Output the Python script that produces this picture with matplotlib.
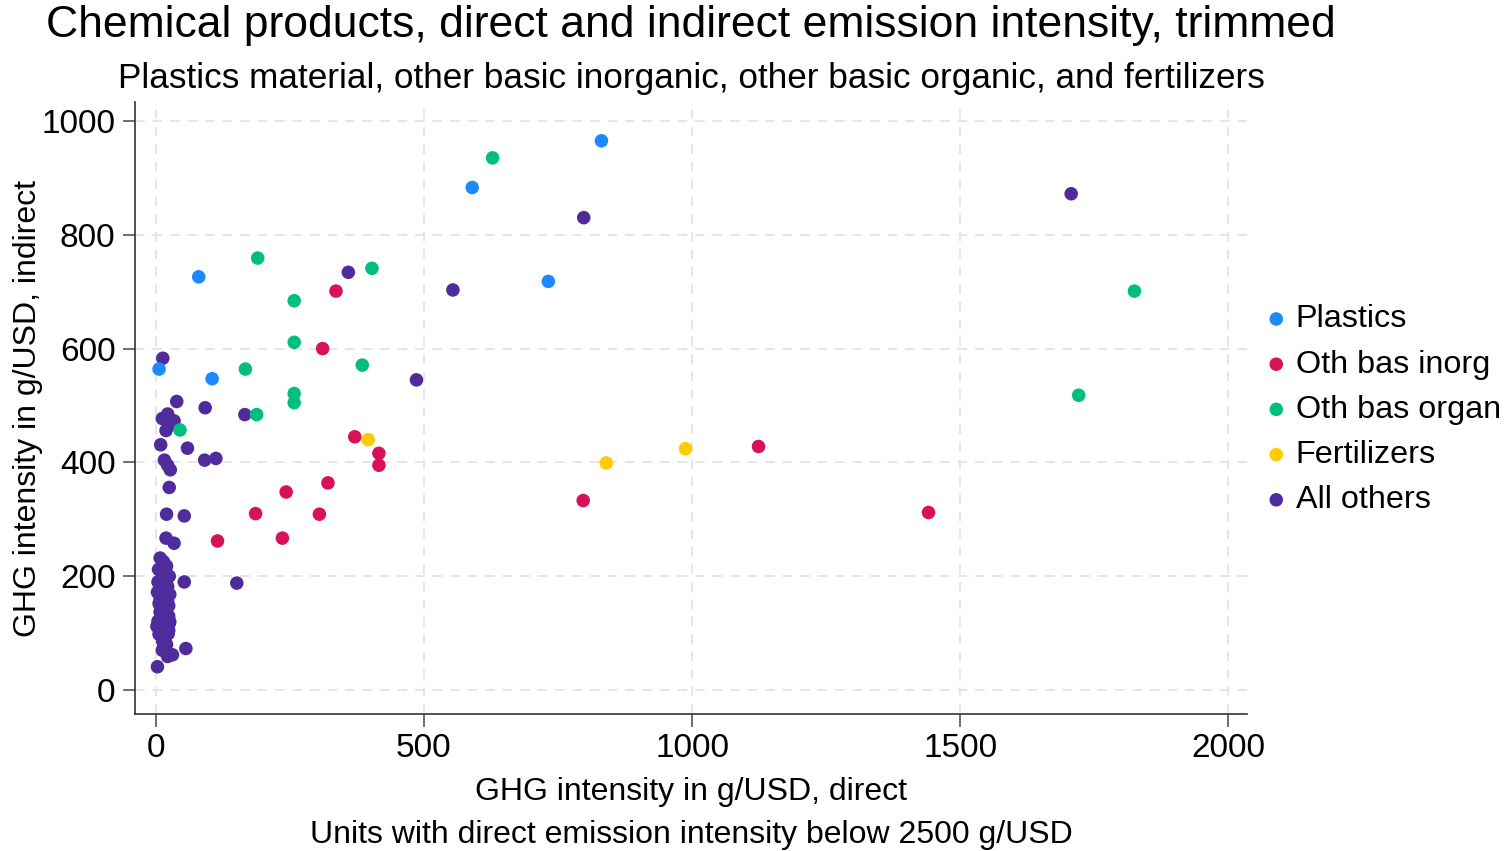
import matplotlib
matplotlib.use("Agg")
import matplotlib.pyplot as plt

plt.rcParams['font.family'] = ['Liberation Sans', 'DejaVu Sans']

# GHG intensity in g/USD: direct (x) and indirect (y)
plastics_x = [831, 590, 732, 80, 105, 6]
plastics_y = [965, 883, 718, 726, 547, 564]

inorg_x = [336, 311, 371, 416, 416, 321, 243, 186, 305, 115, 236, 797, 1124, 1441]
inorg_y = [701, 600, 445, 416, 395, 364, 348, 310, 309, 262, 267, 333, 428, 312]

organ_x = [628, 190, 403, 258, 258, 385, 167, 258, 258, 188, 45, 1825, 1721]
organ_y = [935, 759, 741, 684, 611, 571, 564, 521, 505, 484, 457, 701, 518]

fert_x = [396, 840, 988]
fert_y = [440, 399, 424]

others_x = [798, 1707, 359, 554, 486, 166, 92, 39, 13,
            22, 12, 34, 19, 28, 9, 59, 16, 22, 27, 91, 112, 25, 20, 53,
            19, 34, 53, 151, 56, 3, 22, 31,
            8, 14, 20, 5, 12, 25, 18, 9, 22, 15, 3, 26, 11, 19, 6, 24, 14,
            8, 21, 16, 4, 25, 12, 18, 7, 23, 10, 17, 2, 24, 13, 20, 6, 26,
            15, 9, 22, 4, 18, 12, 24, 8]
others_y = [830, 872, 734, 703, 545, 484, 496, 507, 583,
            485, 477, 473, 456, 466, 431, 425, 404, 395, 387, 404, 407, 356, 309, 306,
            267, 258, 190, 188, 73, 41, 59, 62,
            232, 226, 218, 212, 205, 200, 195, 188, 182, 176, 172, 168, 163, 158, 152, 148, 142,
            137, 131, 126, 121, 117, 112, 108, 103, 99, 95, 90, 112, 130, 85, 80, 98, 120,
            76, 140, 155, 190, 210, 70, 105, 160]

groups = ['Plastics', 'Oth bas inorg', 'Oth bas organ', 'Fertilizers', 'All others']
colors = ['#1e88ff', '#d7115a', '#00bf7d', '#ffcc00', '#4f2c9c']

fig = plt.figure(figsize=(15.11, 8.51), dpi=100)
ax = fig.add_axes([0.0893, 0.161, 0.7360, 0.719])

data = [(plastics_x, plastics_y), (inorg_x, inorg_y), (organ_x, organ_y),
        (fert_x, fert_y), (others_x, others_y)]
for (xs, ys), name, c in zip(data, groups, colors):
    z = 2 if name == 'All others' else 3
    ax.scatter(xs, ys, s=95, color=c, edgecolors='none', label=name, zorder=z)

ax.set_xlim(-39, 2035)
ax.set_ylim(-42, 1033)
ax.set_xticks([0, 500, 1000, 1500, 2000])
ax.set_yticks([0, 200, 400, 600, 800, 1000])
ax.grid(True, color='#e6e6e6', linestyle=(0, (5, 4)), linewidth=1.4, zorder=0)
ax.set_axisbelow(True)
for s in ['top', 'right']:
    ax.spines[s].set_visible(False)
for s in ['left', 'bottom']:
    ax.spines[s].set_color('#333333')
    ax.spines[s].set_linewidth(1.2)
ax.tick_params(axis='both', labelsize=24, length=9, width=1.2, color='#555555', pad=5)

ax.text(0.5, 1.126, 'Chemical products, direct and indirect emission intensity, trimmed',
        transform=ax.transAxes, ha='center', va='center', fontsize=32)
ax.text(0.5, 1.039, 'Plastics material, other basic inorganic, other basic organic, and fertilizers',
        transform=ax.transAxes, ha='center', va='center', fontsize=25.3)
ax.text(0.5, -0.127, 'GHG intensity in g/USD, direct',
        transform=ax.transAxes, ha='center', va='center', fontsize=23)
ax.text(0.5, -0.197, 'Units with direct emission intensity below 2500 g/USD',
        transform=ax.transAxes, ha='center', va='center', fontsize=23)
ax.text(-0.096, 0.5, 'GHG intensity in g/USD, indirect', rotation=90,
        transform=ax.transAxes, ha='center', va='center', fontsize=23)

ax.legend(loc='center left', bbox_to_anchor=(1.003, 0.497), frameon=False, fontsize=23.3,
          handlelength=0.6, handletextpad=0.3, labelspacing=0.47, markerscale=1.0,
          borderaxespad=0.3, borderpad=0.2)

fig.savefig('out.png', dpi=100)
